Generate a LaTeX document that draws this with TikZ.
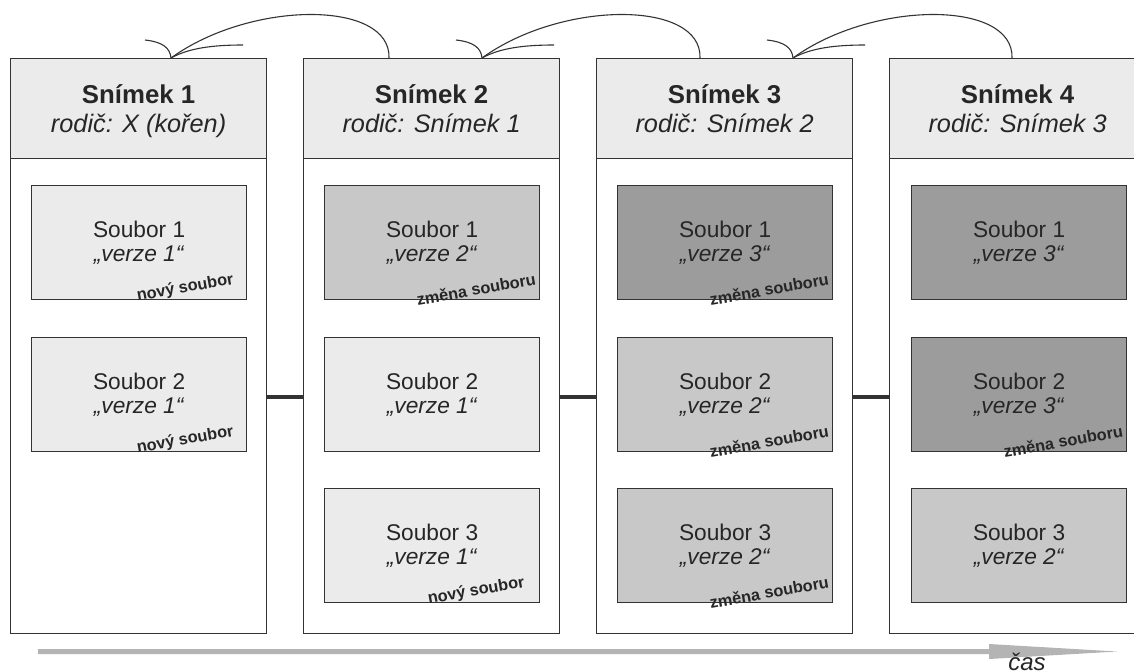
\documentclass[tikz,border=0pt]{standalone}
\usepackage{fontspec}
\setmainfont{Liberation Sans}
\usetikzlibrary{calc}
\definecolor{bord}{HTML}{333333}
\definecolor{light}{HTML}{EAEBEA}
\definecolor{mid}{HTML}{C8C8C8}
\definecolor{dark}{HTML}{9C9C9C}
\definecolor{timec}{HTML}{B4B4B4}
\begin{document}
\begin{tikzpicture}[x=1pt,y=-1pt,
  colbox/.style={draw=bord, line width=1.2pt, fill=white, minimum width=256pt, minimum height=575pt, anchor=north west, inner sep=0pt},
  headbox/.style={draw=bord, line width=1.2pt, fill=light, minimum width=256pt, minimum height=100pt, anchor=north west, inner sep=0pt},
  title/.style={anchor=base, inner sep=0pt, font=\fontsize{25.8}{29}\selectfont\bfseries, text=black!85},
  parent/.style={anchor=base, inner sep=0pt, font=\fontsize{25.3}{29}\selectfont\itshape, text=black!85},
  filebox/.style={draw=bord, line width=1.2pt, minimum width=215pt, minimum height=114pt, anchor=north west, inner sep=0pt, align=center, font=\fontsize{22.7}{24.5}\selectfont, text=black!85},
  tag/.style={rotate=10, inner sep=0pt, font=\fontsize{16.3}{18}\selectfont\bfseries, text=black!85},
  link/.style={draw=bord, line width=3.2pt},
  parc/.style={draw=bord, line width=1.1pt}
]
\useasboundingbox (0,0) rectangle (1134,670);
\clip (0,0) rectangle (1134,670);

% columns and headers
\foreach \i/\x in {1/10,2/303,3/596,4/889} {
  \node[colbox] (c\i) at (\x,58) {};
  \node[headbox] (h\i) at (\x,58) {};
}

\node[title] (t1) at ($(h1.north)+(0,45)$) {Snímek 1};
\node[parent] (p1) at ($(h1.north)+(0,74)$) {rodič: X (kořen)};
\node[title] (t2) at ($(h2.north)+(0,45)$) {Snímek 2};
\node[parent] (p2) at ($(h2.north)+(0,74)$) {rodič: Snímek 1};
\node[title] (t3) at ($(h3.north)+(0,45)$) {Snímek 3};
\node[parent] (p3) at ($(h3.north)+(0,74)$) {rodič: Snímek 2};
\node[title] (t4) at ($(h4.north)+(0,45)$) {Snímek 4};
\node[parent] (p4) at ($(h4.north)+(0,74)$) {rodič: Snímek 3};

% files column 1
\node[filebox, fill=light] (f11) at ($(c1.north west)+(21,127)$) {Soubor 1\\\textit{„verze 1“}};
\node[filebox, fill=light] (f12) at ($(c1.north west)+(21,279)$) {Soubor 2\\\textit{„verze 1“}};
% column 2
\node[filebox, fill=mid] (f21) at ($(c2.north west)+(21,127)$) {Soubor 1\\\textit{„verze 2“}};
\node[filebox, fill=light] (f22) at ($(c2.north west)+(21,279)$) {Soubor 2\\\textit{„verze 1“}};
\node[filebox, fill=light] (f23) at ($(c2.north west)+(21,430)$) {Soubor 3\\\textit{„verze 1“}};
% column 3
\node[filebox, fill=dark] (f31) at ($(c3.north west)+(21,127)$) {Soubor 1\\\textit{„verze 3“}};
\node[filebox, fill=mid] (f32) at ($(c3.north west)+(21,279)$) {Soubor 2\\\textit{„verze 2“}};
\node[filebox, fill=mid] (f33) at ($(c3.north west)+(21,430)$) {Soubor 3\\\textit{„verze 2“}};
% column 4
\node[filebox, fill=dark] (f41) at ($(c4.north west)+(22,127)$) {Soubor 1\\\textit{„verze 3“}};
\node[filebox, fill=dark] (f42) at ($(c4.north west)+(22,279)$) {Soubor 2\\\textit{„verze 3“}};
\node[filebox, fill=mid] (f43) at ($(c4.north west)+(22,430)$) {Soubor 3\\\textit{„verze 2“}};

% change tags
\node[tag] (l11) at ($(f11.south east)+(-62,-12)$) {nový soubor};
\node[tag] (l12) at ($(f12.south east)+(-62,-12)$) {nový soubor};
\node[tag] (l21) at ($(f21.south east)+(-64,-11)$) {změna souboru};
\node[tag] (l23) at ($(f23.south east)+(-64,-12)$) {nový soubor};
\node[tag] (l31) at ($(f31.south east)+(-64,-11)$) {změna souboru};
\node[tag] (l32) at ($(f32.south east)+(-64,-11)$) {změna souboru};
\node[tag] (l33) at ($(f33.south east)+(-64,-11)$) {změna souboru};
\node[tag] (l42) at ($(f42.south east)+(-64,-11)$) {změna souboru};

% links between columns
\foreach \a/\b in {1/2,2/3,3/4} {
  \path (c\a.north east) ++(0,339) coordinate (k\a);
  \draw[link] (k\a) -- (k\a -| c\b.west);
}

% parent arcs
\coordinate (s1) at ($(h2.north west)+(86,0)$);
\coordinate (e1) at ($(h1.north west)+(161,0)$);
\coordinate (s2) at ($(h3.north west)+(104,0)$);
\coordinate (e2) at ($(h2.north west)+(179,0)$);
\coordinate (s3) at ($(h4.north west)+(123,0)$);
\coordinate (e3) at ($(h3.north west)+(197,0)$);
\foreach \k in {1,2,3} {
  \draw[parc] (s\k) .. controls ($(s\k)+(2,-58)$) and ($(e\k)+(80,-58)$) .. (e\k);
  \draw[parc] ($(e\k)+(-26,-18)$) .. controls ($(e\k)+(-8,-16)$) and ($(e\k)+(-1,-10)$) .. (e\k);
  \draw[parc] (e\k) .. controls ($(e\k)+(18,-10)$) and ($(e\k)+(42,-13)$) .. ($(e\k)+(72,-13)$);
}

% time arrow
\coordinate (ta) at (38,651.5);
\coordinate (tb) at (1117,651.5);
\fill[timec] ($(ta)+(0,-2.5)$) -- ($(tb)+(-128,-2.5)$) -- ($(tb)+(-128,-7.5)$) -- (tb)
  -- ($(tb)+(-128,7.5)$) -- ($(tb)+(-128,2.5)$) -- ($(ta)+(0,2.5)$) -- cycle;
\node[anchor=base, inner sep=0pt, font=\fontsize{24}{28}\selectfont\itshape, text=black!85] (cas) at (1027,670) {čas};
\end{tikzpicture}
\end{document}
